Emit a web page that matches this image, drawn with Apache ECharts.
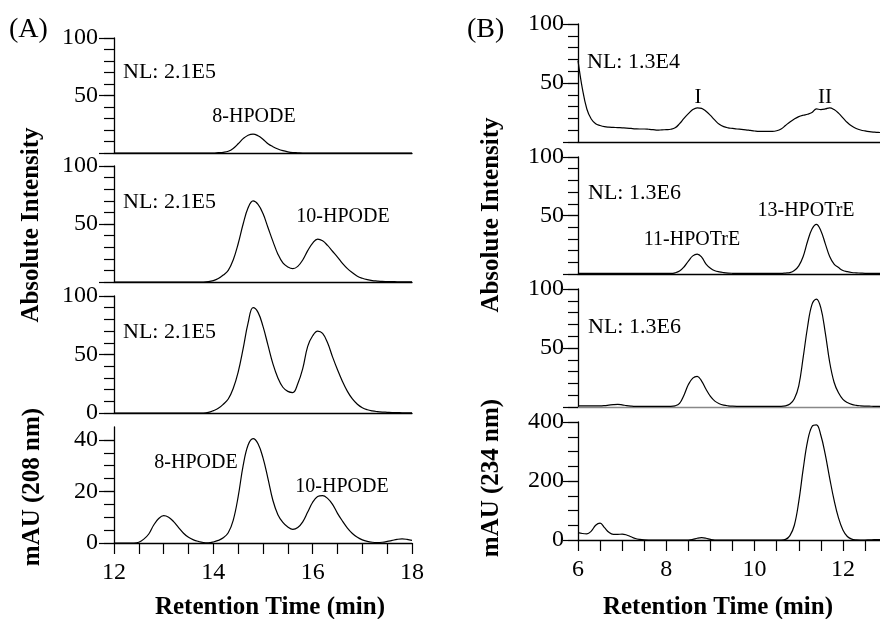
<!DOCTYPE html>
<html>
<head>
<meta charset="utf-8">
<script src="https://cdn.jsdelivr.net/npm/echarts@6/dist/echarts.min.js"></script>
<style>html,body{margin:0;padding:0;background:#fff}#c{width:880px;height:619px}</style>
</head>
<body>
<div id="c"></div>
<script>
// ---------- data ----------
const timeA = [12,12.1,12.2,12.3,12.4,12.5,12.6,12.7,12.8,12.9,13,13.1,13.2,13.3,13.4,13.5,13.6,13.7,13.8,13.9,14,14.1,14.2,14.3,14.4,14.5,14.6,14.7,14.8,14.9,15,15.1,15.2,15.3,15.4,15.5,15.6,15.7,15.8,15.9,16,16.1,16.2,16.3,16.4,16.5,16.6,16.7,16.8,16.9,17,17.1,17.2,17.3,17.4,17.5,17.6,17.7,17.8,17.9,18];
const timeB = [6,6.1,6.2,6.3,6.4,6.5,6.6,6.7,6.8,6.9,7,7.1,7.2,7.3,7.4,7.5,7.6,7.7,7.8,7.9,8,8.1,8.2,8.3,8.4,8.5,8.6,8.7,8.8,8.9,9,9.1,9.2,9.3,9.4,9.5,9.6,9.7,9.8,9.9,10,10.1,10.2,10.3,10.4,10.5,10.6,10.7,10.8,10.9,11,11.1,11.2,11.3,11.4,11.5,11.6,11.7,11.8,11.9,12,12.1,12.2,12.3,12.4,12.5,12.6,12.7,12.8,12.9];

// (A) 8-HPODE trace
const a1 = [0,0,0,0,0,0,0,0,0,0,0,0,0,0,0,0,0,0,0,0,0,
  0.3,0.6,1.5,4,8,12.5,15.5,16.5,15,12,8,5.5,3.5,2,1,0.4,0.2,
  0,0,0,0,0,0,0,0,0,0,0,0,0,0,0,0,0,0,0,0,0,0,0];
// (A) 10-HPODE trace
const a2 = [0,0,0,0,0,0,0,0,0,0,0,0,0,0,0,0,0,0,0,
  0.3,1.2,3,6,10,19,33,50,64,70,67,59,47,35,24,16.5,13,11.5,13.5,19,27,33.5,37,35.5,31.5,26.5,21.5,16,11.5,8,5,3.2,2,1.2,0.8,0.5,0.4,0.3,0.2,0.1,0.1,0.1];
// (A) sum trace
const a3 = [0,0,0,0,0,0,0,0,0,0,0,0,0,0,0,0,0,0,0,
  0.5,2,4,7.5,12,21,35,55,77,90,86,74,58,42,30,22,18.5,17.5,25,38,57,66,70,68,60,48,37,27,18.5,12,7.5,4.5,2.8,1.8,1.2,0.8,0.6,0.4,0.3,0.2,0.1,0.1];
// (A) UV 208 nm
const a4 = [0,0,0,0,0,0.3,1.5,3.5,7,9.5,10.6,10,8.3,6,3.8,2.2,1.2,0.6,0.2,0.1,0.4,1,2,4,8.8,18,30,38,40.5,38.5,33,25,16.5,11,8,6.2,5.3,6,8.2,12,15.8,18,18.4,17.3,15,11.5,8.5,5.8,3.7,2.2,1.2,0.6,0.3,0.2,0.3,0.6,1,1.4,1.6,1.4,1];

// (B) NL 1.3E4
const b1 = [69,45,28,19.5,15.5,14,13,12.6,12.4,12.2,12,11.8,11.5,11.2,11,11,10.8,10.5,10,10.3,10.5,10.8,12,15.5,20,24,27.5,29,28.5,26,22.5,18.5,15,13,12,11.5,11,10.7,10.3,9.8,9.3,9,9,9,9,9.5,11,14,17,19.5,21.5,22.7,23.5,25,28,27.5,28,29,27.5,24.5,20.5,16.5,13.5,11.5,10.2,9.4,8.8,8.4,8.1,8];
// (B) 11-/13-HPOTrE
const b2 = [0.5,0.5,0.5,0.5,0.5,0.5,0.5,0.5,0.5,0.5,0.5,0.5,0.5,0.5,0.5,0.5,0.5,0.5,0.5,0.5,0.5,0.5,
  1,2.5,6,11,15.5,17,14.5,8.5,5,2.8,1.8,1.2,0.8,0.6,
  0.5,0.5,0.5,0.5,0.5,0.5,0.5,0.5,0.5,0.5,0.5,
  0.8,1.2,3,7,15,28,38.5,42.5,37,26,15,8.5,5.5,3,2,1.3,1,0.8,0.6,0.5,0.5,0.5,0.5];
// (B) NL 1.3E6
const b3 = [1,1,1,1,1,1,1.2,1.6,2,2.2,1.8,1.2,0.8,
  0.6,0.6,0.6,0.6,0.6,0.6,0.6,0.6,0.6,
  1,3,10,19,24.5,26,22,15,9,5,2.8,1.6,1,0.7,
  0.6,0.6,0.6,0.6,0.6,0.6,0.6,0.6,0.6,0.6,0.6,
  1,2.5,7,18,42,68,87,91.5,84,63,38,21,12,6.5,3.8,2.2,1.4,1,0.8,0.7,0.6,0.6,0.6];
// (B) UV 234 nm
const b4 = [25,22,21,30,50,57,42,26,19,19,20,17,11,5,2,0.5,
  0,0,0,0,0,0,0,0,0,0,
  2,6,8,6,2,
  0,0,0,0,0,0,0,0,0,0,0,0,0,0,0,0,
  2,15,50,130,240,335,385,390,355,290,210,135,75,34,12,3,0.5,0,0,0.5,1,1.5,2];

// tick values / labels
const yTicks100 = [0,10,20,30,40,50,60,70,80,90,100];
const yMajor100 = [0,50,100];
const yLabels100 = [50,100];
const yLabels100z = [0,50,100];
const yTicksA4 = [0,5,10,15,20,25,30,35,40];
const yMajorA4 = [0,20,40];
const yLabelsA4 = [0,20,40];
const yTicksB4 = [0,50,100,150,200,250,300,350,400];
const yMajorB4 = [0,200,400];
const yLabelsB4 = [0,200,400];
const xTicksA = [12,12.5,13,13.5,14,14.5,15,15.5,16,16.5,17,17.5,18];
const xMajorA = [12,14,16,18];
const xTicksB = [6,6.5,7,7.5,8,8.5,9,9.5,10,10.5,11,11.5,12,12.5];
const xMajorB = [6,8,10,12];

// ---------- layout ----------
const FONT = "'Liberation Serif','Times New Roman',serif";
const panels = [
  {g:{left:114,top:38,width:298,height:115}, xr:[12,18], t:timeA, d:a1, ymax:100, yt:yTicks100, ym:yMajor100, yl:yLabels100, lm:16},
  {g:{left:114,top:166,width:298,height:116}, xr:[12,18], t:timeA, d:a2, ymax:100, yt:yTicks100, ym:yMajor100, yl:yLabels100, lm:16},
  {g:{left:114,top:296,width:298,height:117}, xr:[12,18], t:timeA, d:a3, ymax:100, yt:yTicks100, ym:yMajor100, yl:yLabels100z, lm:16},
  {g:{left:114,top:427,width:298,height:116}, xr:[12,18], t:timeA, d:a4, ymax:45, yt:yTicksA4, ym:yMajorA4, yl:yLabelsA4, lm:16, xt:xTicksA, xl:xMajorA},
  {g:{left:578,top:24,width:302,height:118}, xr:[6,12.84], t:timeB, d:b1, ymax:100, yt:yTicks100, ym:yMajor100, yl:yLabels100, lm:14},
  {g:{left:578,top:157,width:302,height:117}, xr:[6,12.84], t:timeB, d:b2, ymax:100, yt:yTicks100, ym:yMajor100, yl:yLabels100, lm:14},
  {g:{left:578,top:289,width:302,height:118}, xr:[6,12.84], t:timeB, d:b3, ymax:100, yt:yTicks100, ym:yMajor100, yl:yLabels100, lm:14, xc:'#888'},
  {g:{left:578,top:422,width:302,height:118}, xr:[6,12.84], t:timeB, d:b4, ymax:400, yt:yTicksB4, ym:yMajorB4, yl:yLabelsB4, lm:14, xt:xTicksB, xl:xMajorB}
];

const grid = [], xAxis = [], yAxis = [], series = [];
panels.forEach((p, i) => {
  grid.push(Object.assign({containLabel:false}, p.g));
  xAxis.push({
    type:'value', gridIndex:i, min:p.xr[0], max:p.xr[1],
    axisLine:{show:true, onZero:false, lineStyle:{color:p.xc||'#000', width:1.3}},
    axisTick:p.xt ? {show:true, customValues:p.xt, length:11, lineStyle:{color:'#000', width:1.2}} : {show:false},
    axisLabel:p.xl ? {show:true, customValues:p.xl, margin:18, color:'#000', fontFamily:FONT, fontSize:24} : {show:false},
    splitLine:{show:false}
  });
  yAxis.push({
    type:'value', gridIndex:i, position:'left', min:0, max:p.ymax,
    axisLine:{show:true, lineStyle:{color:'#000', width:1.3}},
    axisTick:{show:true, customValues:p.yt, length:10, lineStyle:{color:'#000', width:1.2}},
    axisLabel:{show:true, customValues:p.yl, margin:p.lm, color:'#000', fontFamily:FONT, fontSize:24},
    splitLine:{show:false}
  });
  yAxis.push({
    type:'value', gridIndex:i, position:'left', min:0, max:p.ymax,
    axisLine:{show:false},
    axisTick:{show:true, customValues:p.ym, length:15, lineStyle:{color:'#000', width:1.2}},
    axisLabel:{show:false},
    splitLine:{show:false}
  });
  series.push({
    type:'line', xAxisIndex:i, yAxisIndex:2*i, smooth:0.4, showSymbol:false, clip:true,
    lineStyle:{color:'#000', width:1.2},
    data:p.t.map((t, k) => [t, p.d[k]])
  });
});

function txt(x, y, s, size, opts) {
  opts = opts || {};
  return {
    type:'text', x:x, y:y, rotation:opts.rot || 0, z:10,
    style:{text:s, fill:'#000', font:(opts.bold?'bold ':'') + size + 'px ' + FONT,
      textAlign:opts.align || 'left', textVerticalAlign:'middle'}
  };
}
const graphic = [
  txt(9, 30, '(A)', 28),
  txt(467, 30, '(B)', 28),
  txt(123, 72, 'NL: 2.1E5', 22),
  txt(254, 117, '8-HPODE', 20, {align:'center'}),
  txt(123, 202, 'NL: 2.1E5', 22),
  txt(343, 217, '10-HPODE', 20, {align:'center'}),
  txt(123, 332, 'NL: 2.1E5', 22),
  txt(196, 463, '8-HPODE', 20, {align:'center'}),
  txt(342, 487, '10-HPODE', 20, {align:'center'}),
  txt(587, 62, 'NL: 1.3E4', 22),
  txt(698, 97, 'I', 21, {align:'center'}),
  txt(825, 97, 'II', 21, {align:'center'}),
  txt(588, 193, 'NL: 1.3E6', 22),
  txt(692, 240, '11-HPOTrE', 20, {align:'center'}),
  txt(806, 211, '13-HPOTrE', 20, {align:'center'}),
  txt(588, 327, 'NL: 1.3E6', 22),
  txt(32, 225, 'Absolute Intensity', 25, {bold:true, align:'center', rot:Math.PI/2}),
  txt(33, 487, 'mAU (208 nm)', 25, {bold:true, align:'center', rot:Math.PI/2}),
  txt(492, 215, 'Absolute Intensity', 25, {bold:true, align:'center', rot:Math.PI/2}),
  txt(492, 478, 'mAU (234 nm)', 25, {bold:true, align:'center', rot:Math.PI/2}),
  txt(270, 608, 'Retention Time (min)', 25, {bold:true, align:'center'}),
  txt(718, 608, 'Retention Time (min)', 25, {bold:true, align:'center'})
];

const chart = echarts.init(document.getElementById('c'), null, {renderer:'canvas'});
chart.setOption({
  backgroundColor:'#fff', animation:false,
  grid:grid, xAxis:xAxis, yAxis:yAxis, series:series, graphic:graphic
});
</script>
</body>
</html>
